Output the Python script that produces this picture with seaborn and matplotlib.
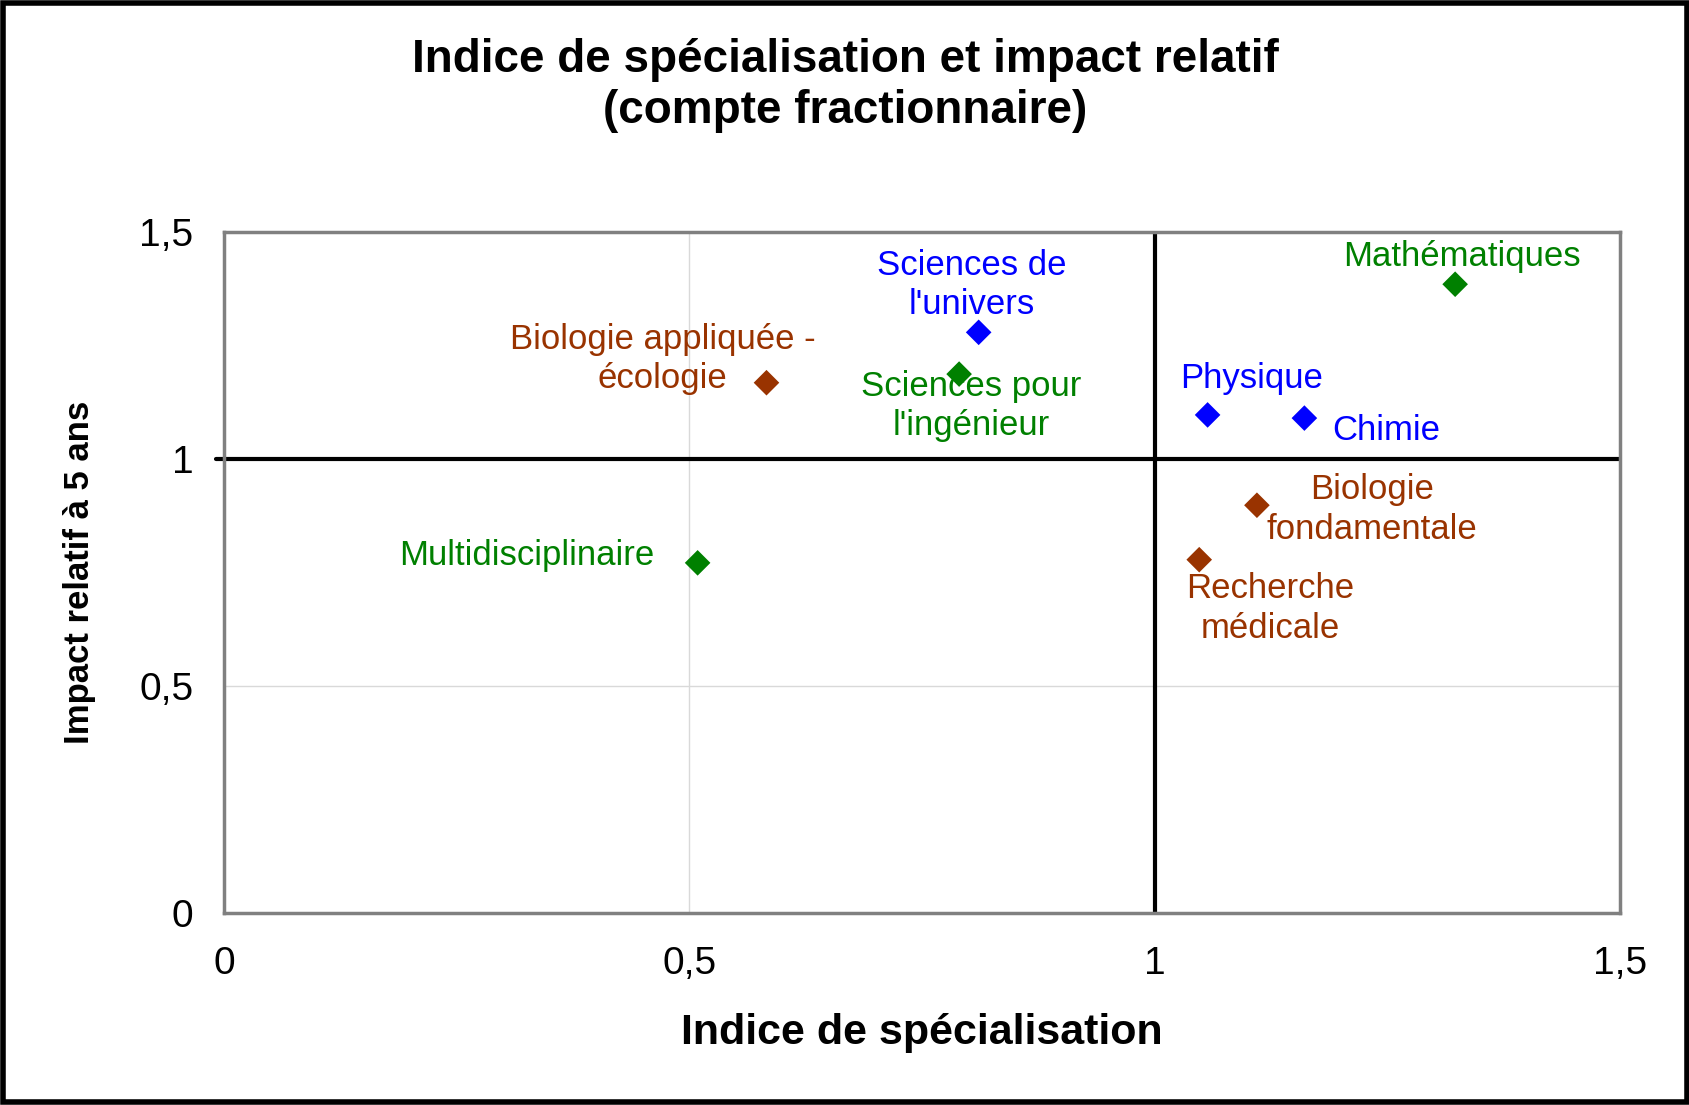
import matplotlib
matplotlib.use('Agg')
import matplotlib.pyplot as plt
import seaborn as sns
import pandas as pd
from matplotlib.patches import Rectangle

# data
disciplines = ["Mathématiques", "Sciences de\nl'univers", "Sciences pour\nl'ingénieur",
               "Biologie appliquée -\nécologie", "Physique", "Chimie",
               "Biologie\nfondamentale", "Recherche\nmédicale", "Multidisciplinaire"]
specialisation = [1.323, 0.811, 0.790, 0.583, 1.057, 1.161, 1.110, 1.048, 0.509]
impact = [1.385, 1.279, 1.187, 1.168, 1.097, 1.090, 0.898, 0.778, 0.771]
groupe = ["vert", "bleu", "vert", "brun", "bleu", "bleu", "brun", "brun", "vert"]
# label offsets (points) from each marker
offsets = [(5, 20), (-5, 34), (9, -23), (-75, 17), (32, 26), (59, -9), (83, -3), (51, -35), (-123, 5)]

palette = {"vert": "#008000", "bleu": "#0000FF", "brun": "#993300"}
ticks = [0, 0.5, 1, 1.5]
tick_labels = ["0", "0,5", "1", "1,5"]

df = pd.DataFrame({"discipline": disciplines, "x": specialisation, "y": impact, "groupe": groupe})

sns.set_style("white")
plt.rcParams['font.family'] = ['Liberation Sans', 'DejaVu Sans']
plt.rcParams['text.color'] = 'black'
plt.rcParams['axes.labelcolor'] = 'black'
plt.rcParams['xtick.color'] = 'black'
plt.rcParams['ytick.color'] = 'black'

fig = plt.figure(figsize=(16.9, 11.05), dpi=100)
ax = fig.add_axes([0.1325, 0.174, 0.826, 0.616])

ax.set_xlim(0, 1.5)
ax.set_ylim(0, 1.5)
ax.set_xticks(ticks)
ax.set_yticks(ticks)
ax.set_xticklabels(tick_labels, fontsize=28)
ax.set_yticklabels(tick_labels, fontsize=28)
ax.tick_params(length=0)
ax.tick_params(axis='x', pad=24)
ax.tick_params(axis='y', pad=22)
ax.grid(True, color="#d9d9d9", linewidth=1)
for sp in ax.spines.values():
    sp.set_color("#808080")
    sp.set_linewidth(2.5)

ax.axhline(1, xmin=-0.006, color="black", linewidth=3, clip_on=False, zorder=2)
ax.axvline(1, color="black", linewidth=3, zorder=2)

sns.scatterplot(data=df, x="x", y="y", hue="groupe", palette=palette, marker="D",
                s=170, linewidth=0, legend=False, ax=ax, zorder=3)

for name, x, y, g, off in zip(disciplines, specialisation, impact, groupe, offsets):
    ax.annotate(name, (x, y), xytext=off, textcoords="offset points",
                ha="center", va="center", multialignment="center",
                color=palette[g], fontsize=25, linespacing=1.25)

ax.set_xlabel("Indice de spécialisation", fontsize=31, fontweight="bold", labelpad=22)
ax.set_ylabel("Impact relatif à 5 ans", fontsize=25, fontweight="bold", labelpad=31)
fig.suptitle("Indice de spécialisation et impact relatif\n(compte fractionnaire)",
             fontsize=33, fontweight="bold", y=0.966, linespacing=1.22)

fig.patches.append(Rectangle((0.002, 0.003), 0.996, 0.994, transform=fig.transFigure,
                             fill=False, edgecolor="black", linewidth=4))

fig.savefig("out.png", dpi=100)
